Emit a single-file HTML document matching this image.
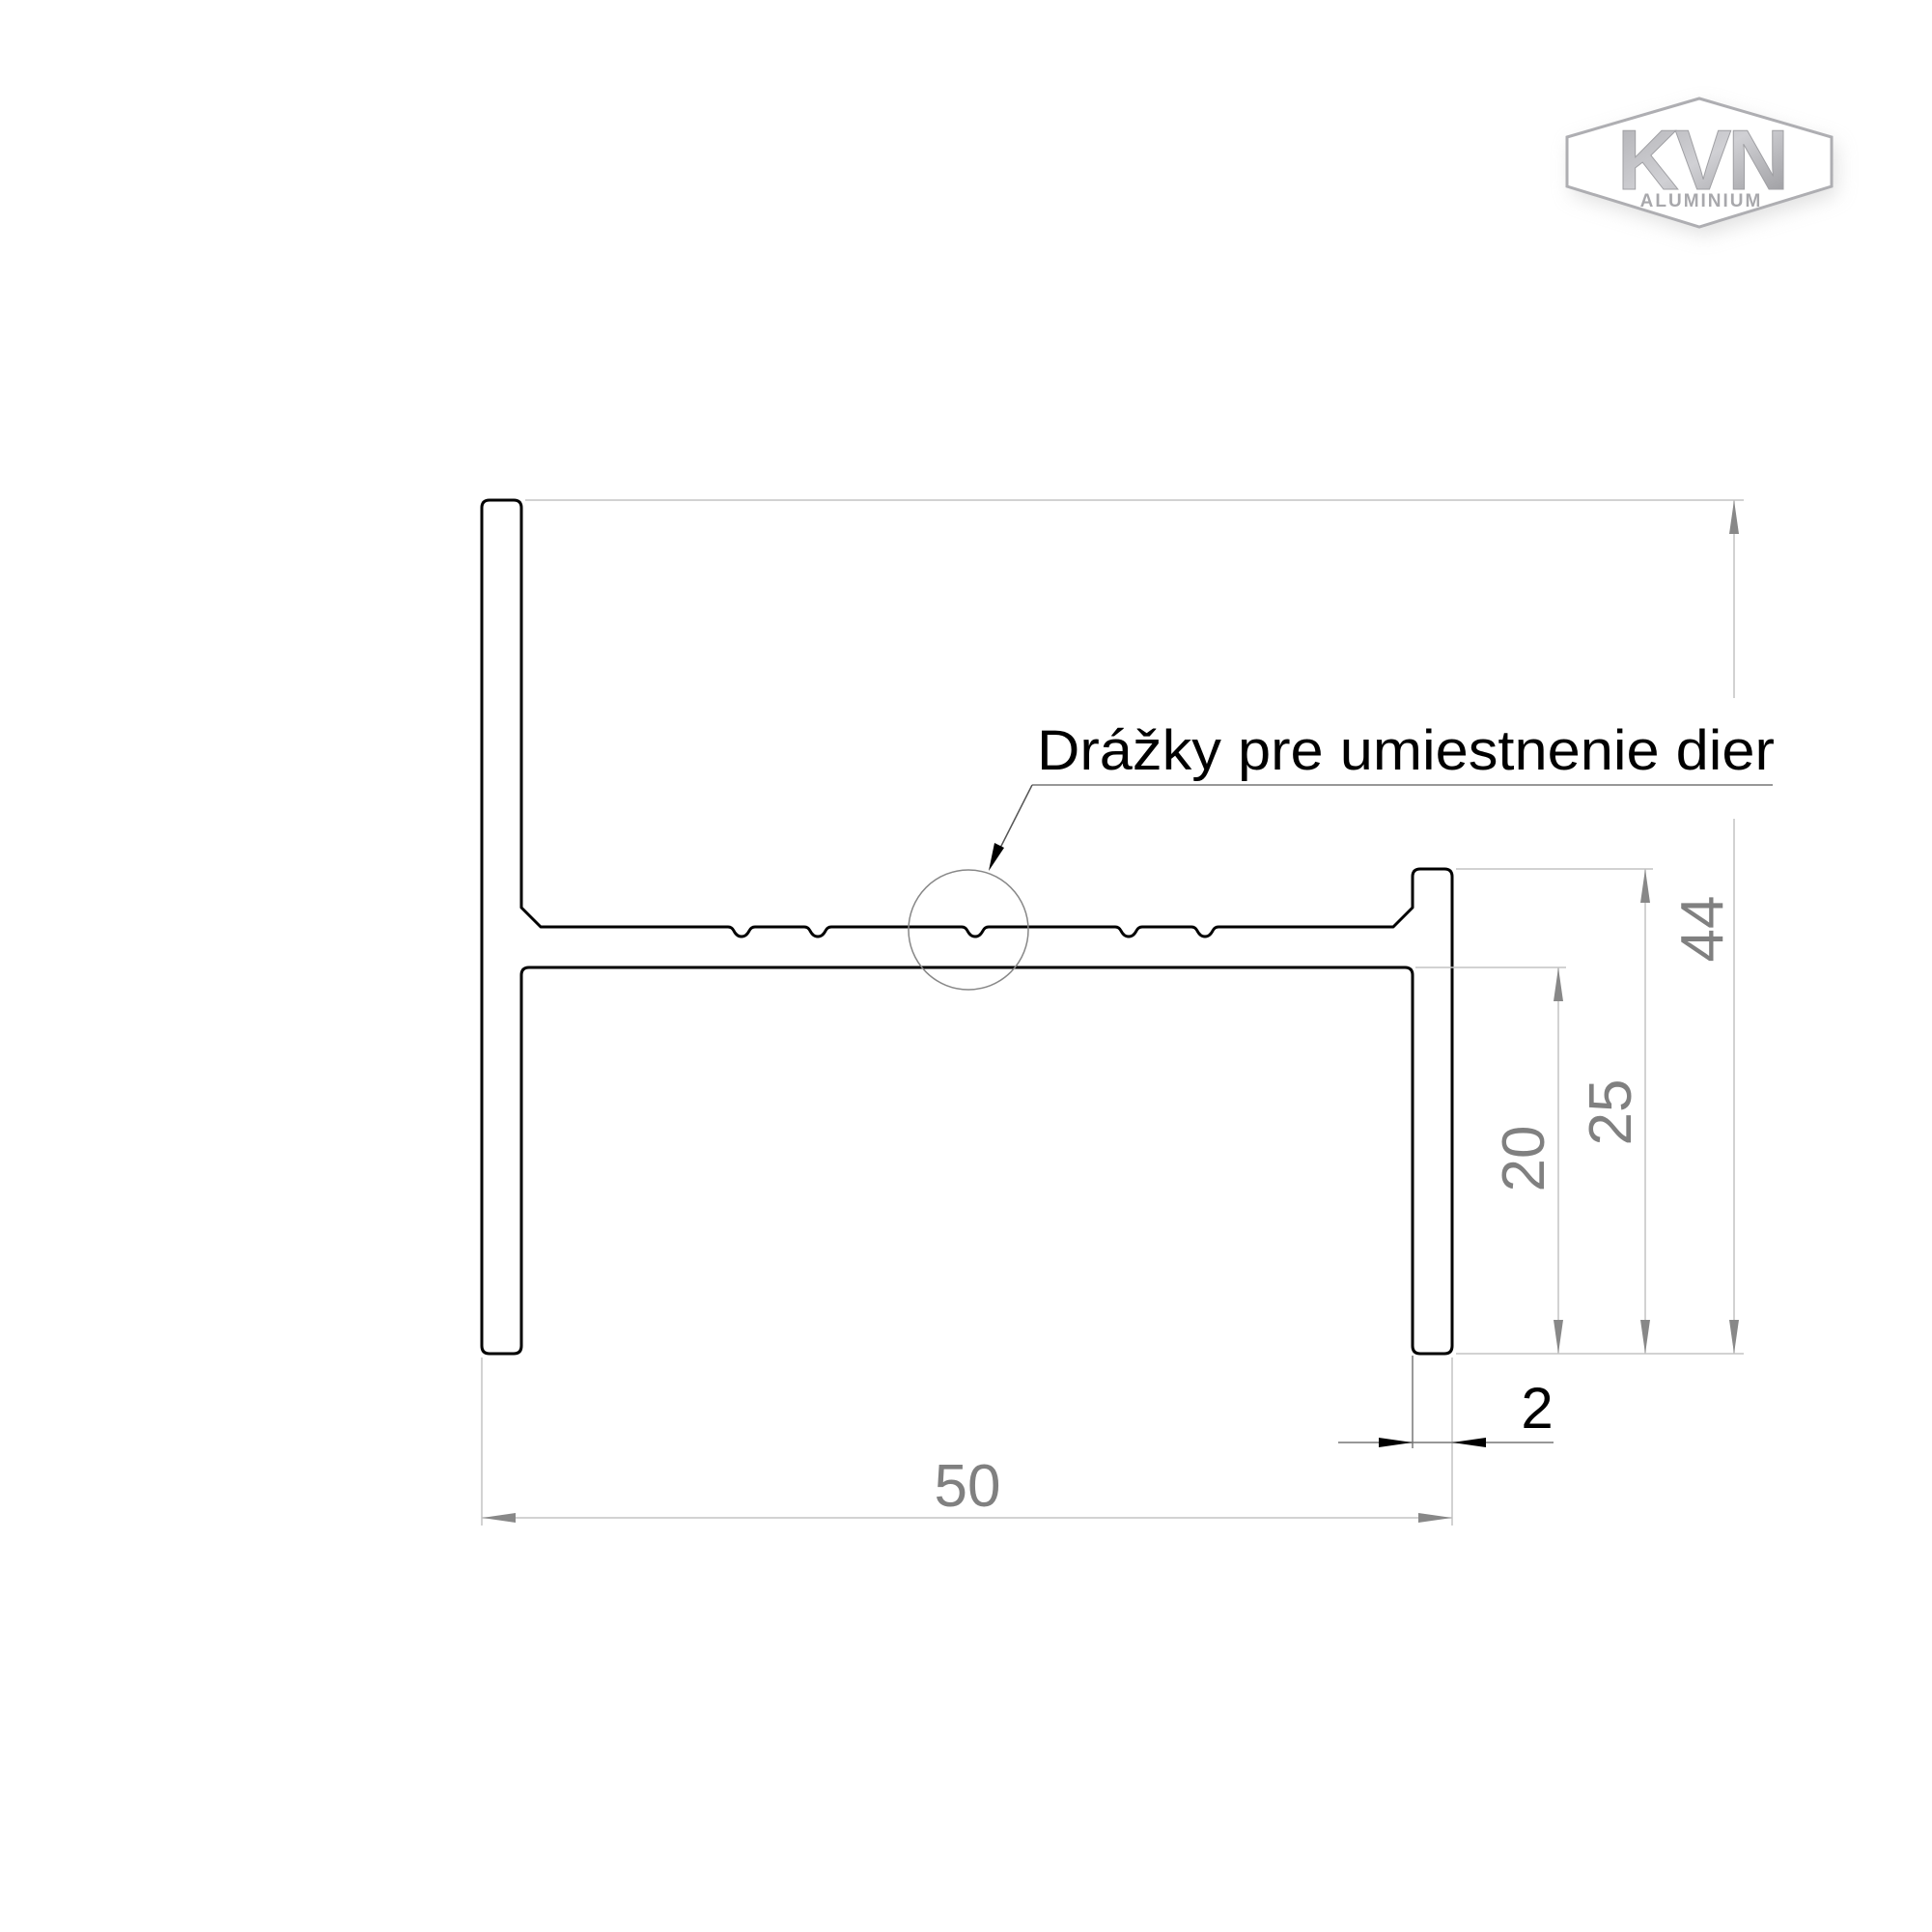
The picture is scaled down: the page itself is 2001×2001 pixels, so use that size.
<!DOCTYPE html>
<html><head><meta charset="utf-8"><style>html,body{margin:0;padding:0;background:#fff}svg{display:block}</style></head>
<body>
<svg width="2001" height="2001" viewBox="0 0 2001 2001" xmlns="http://www.w3.org/2000/svg" font-family="Liberation Sans, sans-serif">
<defs>
<filter id="sh" x="-30%" y="-50%" width="160%" height="200%"><feGaussianBlur stdDeviation="10"/></filter>
<linearGradient id="mg" x1="0" y1="0" x2="1" y2="1"><stop offset="0" stop-color="#b0b0b4"/><stop offset="0.5" stop-color="#d0d0d4"/><stop offset="1" stop-color="#96969a"/></linearGradient>
</defs>
<!-- logo -->
<polygon points="1628,150 1765,110 1902,150 1902,201 1765,243 1628,201" fill="#ccc" filter="url(#sh)" opacity="0.6"/>
<polygon points="1623,142 1760,102 1897,142 1897,193 1760,235 1623,193" fill="#fff" stroke="#aeaeb2" stroke-width="3"/>
<text x="1762" y="196" font-size="88" font-weight="bold" text-anchor="middle" fill="url(#mg)" stroke="#a0a0a4" stroke-width="1" letter-spacing="-4">KVN</text>
<text x="1762" y="214" font-size="19" text-anchor="middle" fill="#a8a8ac" font-weight="bold" letter-spacing="2">ALUMINIUM</text>

<!-- profile -->
<g fill="none" stroke="#000" stroke-width="3" stroke-linejoin="round">
<path d="M499,526 Q499,518 507,518 L532,518 Q540,518 540,526 L540,940 L560,960 L754,960 Q758,960 760,964 Q763,970 768,970 Q773,970 776,964 Q778,960 782,960 L833,960 Q837,960 839,964 Q842,970 847,970 Q852,970 855,964 Q857,960 861,960 L996,960 Q1000,960 1002,964 Q1005,970 1010,970 Q1015,970 1018,964 Q1020,960 1024,960 L1155,960 Q1159,960 1161,964 Q1164,970 1169,970 Q1174,970 1177,964 Q1179,960 1183,960 L1234,960 Q1238,960 1240,964 Q1243,970 1248,970 Q1253,970 1256,964 Q1258,960 1262,960 L1443,960 L1463,940 L1463,908 Q1463,900 1471,900 L1496,900 Q1504,900 1504,908 L1504,1394 Q1504,1402 1496,1402 L1471,1402 Q1463,1402 1463,1394 L1463,1010 Q1463,1002 1455,1002 L548,1002 Q540,1002 540,1010 L540,1394 Q540,1402 532,1402 L507,1402 Q499,1402 499,1394 Z"/>
</g>

<!-- circle + leader -->
<circle cx="1003" cy="963" r="62" fill="none" stroke="#888" stroke-width="1.5"/>
<path d="M1069,813 L1836,813" stroke="#777" stroke-width="1.5"/>
<path d="M1069,813 L1030,890" stroke="#555" stroke-width="1.5"/>
<polygon points="1024,902 1030,873 1040,878" fill="#000"/>
<text x="1074" y="797" font-size="58" fill="#000" textLength="764" lengthAdjust="spacingAndGlyphs">Drážky pre umiestnenie dier</text>

<!-- extension lines -->
<g stroke="#c4c4c4" stroke-width="1.5">
<line x1="544" y1="518" x2="1806" y2="518"/>
<line x1="1508" y1="900" x2="1712" y2="900"/>
<line x1="1466" y1="1002" x2="1622" y2="1002"/>
<line x1="1508" y1="1402" x2="1806" y2="1402"/>
<line x1="499" y1="1406" x2="499" y2="1580"/>
<line x1="1504" y1="1406" x2="1504" y2="1580"/>
<line x1="1796" y1="518" x2="1796" y2="723"/>
<line x1="1796" y1="848" x2="1796" y2="1402"/>
<line x1="1704" y1="900" x2="1704" y2="1402"/>
<line x1="1614" y1="1002" x2="1614" y2="1402"/>
<line x1="499" y1="1572" x2="1504" y2="1572"/>
</g>
<g fill="#888">
<polygon points="1796,518 1791,553 1801,553"/>
<polygon points="1796,1402 1791,1367 1801,1367"/>
<polygon points="1704,900 1699,935 1709,935"/>
<polygon points="1704,1402 1699,1367 1709,1367"/>
<polygon points="1614,1002 1609,1037 1619,1037"/>
<polygon points="1614,1402 1609,1367 1619,1367"/>
<polygon points="499,1572 534,1567 534,1577"/>
<polygon points="1504,1572 1469,1567 1469,1577"/>
</g>
<g fill="#808080" font-size="62" text-anchor="middle">
<text transform="translate(1784,962) rotate(-90)">44</text>
<text transform="translate(1689,1152) rotate(-90)">25</text>
<text transform="translate(1599,1200) rotate(-90)">20</text>
<text x="1002" y="1560">50</text>
</g>

<!-- dim 2 -->
<line x1="1463" y1="1404" x2="1463" y2="1500" stroke="#777" stroke-width="1.5"/>
<line x1="1386" y1="1494" x2="1609" y2="1494" stroke="#777" stroke-width="1.5"/>
<polygon points="1463,1494 1428,1489 1428,1499" fill="#000"/>
<polygon points="1504,1494 1539,1489 1539,1499" fill="#000"/>
<text x="1592" y="1479" font-size="60" fill="#000" text-anchor="middle">2</text>
</svg>
</body></html>
